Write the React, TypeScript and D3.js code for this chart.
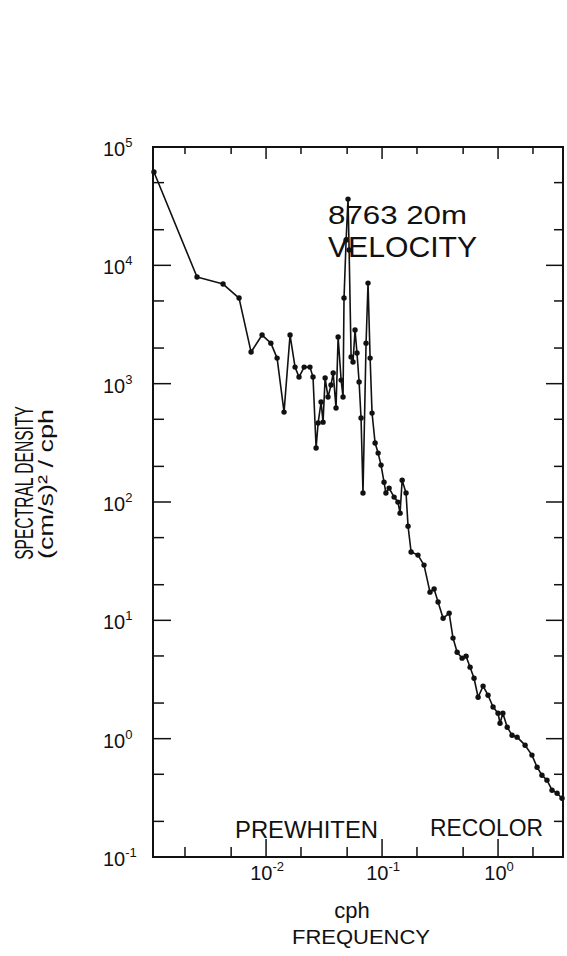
import React from "react";
import * as d3 from "d3";

// frequency (cph) and spectral density ((cm/s)^2/cph)
const frequency = [
  0.00108, 0.00254, 0.00426, 0.00585, 0.00743, 0.00924, 0.011, 0.01245, 0.01429, 0.0161,
  0.01778, 0.01923, 0.0213, 0.0239, 0.0254, 0.027, 0.0281, 0.0298, 0.031, 0.0323,
  0.0342, 0.0363, 0.0379, 0.0401, 0.0418, 0.0444, 0.0461, 0.047, 0.049, 0.0509,
  0.052, 0.0541, 0.0562, 0.0585, 0.0608, 0.0634, 0.0659, 0.0685, 0.0728, 0.0757,
  0.0789, 0.082, 0.0871, 0.0925, 0.098, 0.104, 0.108, 0.115, 0.127, 0.137,
  0.143, 0.149, 0.161, 0.1675, 0.178, 0.204, 0.23, 0.259, 0.281, 0.304,
  0.336, 0.379, 0.409, 0.444, 0.49, 0.53, 0.574, 0.621, 0.673, 0.743,
  0.82, 0.906, 1.0, 1.04, 1.1, 1.2, 1.32, 1.46, 1.71, 1.96,
  2.17, 2.39, 2.64, 2.92, 3.23, 3.56,
];
const spectralDensity = [
  61500, 7960, 6950, 5290, 1850, 2575, 2200, 1645, 575, 2575,
  1380, 1137, 1380, 1380, 1137, 286, 465, 699, 473, 1115,
  771, 973, 1230, 622, 2477, 1072, 771, 5290, 16370, 36300,
  13460, 1679, 1523, 2838, 1815, 1032, 512, 119, 2200, 7080,
  1645, 564, 315, 259, 205, 147, 119, 131, 110, 99.8,
  80.5, 153, 119, 62.5, 37.8, 35.6, 29.3, 17.3, 18.4, 14.3,
  10.4, 11.5, 7.08, 5.38, 4.79, 4.98, 4.02, 3.24, 2.24, 2.78,
  2.33, 1.85, 1.64, 1.35, 1.64, 1.25, 1.07, 1.03, 0.881, 0.726,
  0.574, 0.491, 0.446, 0.367, 0.346, 0.314,
];

const xDomain = [0.00106, 3.63];
const yDomain = [0.1, 1e5];
const yTickExponents = [5, 4, 3, 2, 1, 0, -1];
const xTickExponents = [-2, -1, 0];
const minorMultipliers = [1, 2, 5];
const xTitleLines = ["cph", "FREQUENCY"];
const yTitleLines = ["SPECTRAL DENSITY", "(cm/s)\u00B2 / cph"];
const stationLabel = "8763 20m";
const variableLabel = "VELOCITY";
const leftNote = "PREWHITEN";
const rightNote = "RECOLOR";

const FONT = "'Liberation Sans', Arial, sans-serif";
const INK = "#111";

function logTicks(domain: number[]) {
  const out: { v: number; major: boolean }[] = [];
  const e0 = Math.floor(Math.log10(domain[0]));
  const e1 = Math.ceil(Math.log10(domain[1]));
  for (let e = e0; e <= e1; e++) {
    for (const m of minorMultipliers) {
      const v = m * Math.pow(10, e);
      if (v > domain[0] * 1.001 && v < domain[1] * 0.999) out.push({ v, major: m === 1 });
    }
  }
  return out;
}

export default function App() {
  const W = 567, H = 956;
  const left = 153, right = 563, top = 147, bottom = 857;
  const x = d3.scaleLog().domain(xDomain).range([left, right]);
  const y = d3.scaleLog().domain(yDomain).range([bottom, top]);

  const data = frequency.map((f, i) => ({ f, s: spectralDensity[i] }));
  const line = d3.line<{ f: number; s: number }>().x((d) => x(d.f)).y((d) => y(d.s));

  const xt = logTicks(xDomain);
  const yt = logTicks(yDomain).concat(
    yTickExponents.filter((e) => Math.pow(10, e) === yDomain[0] || Math.pow(10, e) === yDomain[1]).map((e) => ({ v: Math.pow(10, e), major: true }))
  );

  const sup = (e: number) => (e < 0 ? "-" + -e : String(e));

  return (
    <svg
      width={W}
      height={H}
      viewBox={`0 0 ${W} ${H}`}
      style={{ position: "absolute", left: 0, top: 0, background: "#fff" }}
      fontFamily={FONT}
    >
      <rect x={0} y={0} width={W} height={H} fill="#fff" />
      {/* frame */}
      <rect x={left} y={top} width={right - left} height={bottom - top} fill="none" stroke={INK} strokeWidth={2} />

      {/* x ticks bottom & top */}
      {xt.map((t, i) => (
        <g key={"xt" + i} stroke={INK} strokeWidth={1.5}>
          <line x1={x(t.v)} x2={x(t.v)} y1={bottom} y2={bottom - (t.major ? 18 : 10)} />
          <line x1={x(t.v)} x2={x(t.v)} y1={top} y2={top + (t.major ? 12 : 7)} />
        </g>
      ))}
      {/* y ticks left & right */}
      {yt.map((t, i) => (
        <g key={"yt" + i} stroke={INK} strokeWidth={1.5}>
          <line x1={left} x2={left + (t.major ? 18 : 11)} y1={y(t.v)} y2={y(t.v)} />
          <line x1={right} x2={right - (t.major ? 17 : 9)} y1={y(t.v)} y2={y(t.v)} />
        </g>
      ))}

      {/* y tick labels */}
      {yTickExponents.map((e) => (
        <text key={"yl" + e} x={103} y={y(Math.pow(10, e)) + 9} fontSize={20} fill={INK}>
          <tspan>10</tspan>
          <tspan dy={-9} fontSize={13}>{sup(e)}</tspan>
        </text>
      ))}
      {/* x tick labels */}
      {xTickExponents.map((e) => (
        <text key={"xl" + e} x={x(Math.pow(10, e)) + 1} y={880} fontSize={20} fill={INK} textAnchor="middle">
          <tspan>10</tspan>
          <tspan dy={-9} fontSize={13}>{sup(e)}</tspan>
        </text>
      ))}

      {/* axis titles */}
      <text x={352} y={918} fontSize={22} fill={INK} textAnchor="middle">{xTitleLines[0]}</text>
      <text x={361} y={944} fontSize={21} fill={INK} textAnchor="middle" textLength={138} lengthAdjust="spacingAndGlyphs">{xTitleLines[1]}</text>
      <text transform="translate(33,483) rotate(-90) scale(0.6,1)" fontSize={26} fill={INK} textAnchor="middle">{yTitleLines[0]}</text>
      <text transform="translate(53,484) rotate(-90)" fontSize={21} fill={INK} textAnchor="middle" textLength={150} lengthAdjust="spacingAndGlyphs">{yTitleLines[1]}</text>

      {/* annotations */}
      <text x={328} y={224} fontSize={25} fill={INK} textLength={139} lengthAdjust="spacingAndGlyphs">{stationLabel}</text>
      <text x={328} y={257} fontSize={30} fill={INK} textLength={149} lengthAdjust="spacingAndGlyphs">{variableLabel}</text>
      <text x={235} y={838} fontSize={24} fill={INK} textLength={143} lengthAdjust="spacingAndGlyphs">{leftNote}</text>
      <text x={430} y={836} fontSize={23} fill={INK} textLength={113} lengthAdjust="spacingAndGlyphs">{rightNote}</text>

      {/* data */}
      <path d={line(data) || ""} fill="none" stroke={INK} strokeWidth={1.6} strokeLinejoin="round" />
      {data.map((d, i) => (
        <circle key={"p" + i} cx={x(d.f)} cy={y(d.s)} r={2.7} fill={INK} />
      ))}
    </svg>
  );
}
